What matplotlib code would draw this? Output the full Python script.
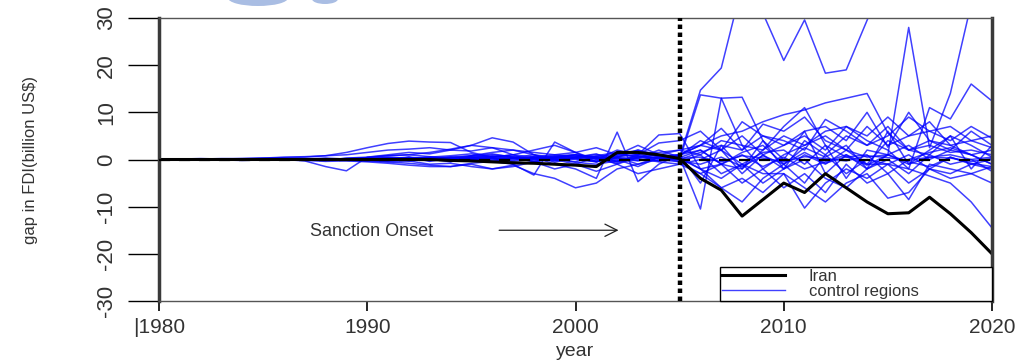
import matplotlib
matplotlib.use('Agg')
import matplotlib.pyplot as plt
from matplotlib.patches import Ellipse

years = list(range(1980, 2021))
year_ticks = [1980, 1990, 2000, 2010, 2020]
year_labels = ['|1980', '1990', '2000', '2010', '2020']
gap_ticks = [-30, -20, -10, 0, 10, 20, 30]

iran = [0, 0, 0, 0, 0, 0, 0, 0, 0, 0,
        0, 0, 0, 0, -0.2, -0.3, -0.5, -0.7, -0.8, -1.0,
        -1.2, -1.5, 1.5, 1.5, 1.0, 0.2, -4.0, -6.5, -12.0, -8.5,
        -5.0, -7.0, -3.0, -6.0, -9.0, -11.5, -11.3, -8.0, -11.5, -15.5, -20.0]

# control regions (placebo gaps), one list per region
ctrl_a = [0.0, 0.1, 0.2, 0.1, 0.0, 0.1, 0.2, 0.0, -0.2, 0.3,
          0.5, 0.8, 1.0, 0.6, 0.3, 0.8, 1.2, 0.5, -0.5, 0.4,
          1.0, 0.2, -0.8, 0.5, 1.0, 0.5, 14.7, 19.4, 37.0, 31.0,
          21.0, 29.6, 18.3, 19.0, 29.5, 40.0, 45.0, 48.0, 46.0, 50.0, 52.0]
ctrl_b = [0, -0.1, 0, 0.1, 0, 0, -0.1, 0, 0.2, 0,
          -0.3, 0.2, 0.5, -0.4, 0.3, 0.6, -0.5, 0.4, 1.0, -0.6,
          0.5, 1.2, -0.5, 0.8, -0.3, 0.4, 2.0, -1.0, 1.5, 3.0,
          -1.0, 2.5, 0.5, 3.0, -2.0, 1.0, 28.0, 2.5, 14.0, 33.0, 45.0]
ctrl_c = [0, 0, 0.1, 0, -0.1, 0, 0, 0.1, 0, -0.1,
          0.2, -0.2, 0.3, 0.5, 0.2, -0.3, 0.6, 0.2, -0.2, 0.5,
          0.3, -0.5, 0.6, 1.0, 0.2, 1.0, 3.0, 2.0, 5.0, 1.0,
          3.0, 5.0, 2.0, 7.0, 4.0, 2.0, -2.0, 11.0, 8.6, 16.0, 12.4]
ctrl_d = [0, 0, 0, 0.1, 0, 0, 0.1, 0, 0, 0.1,
          0, 0.3, -0.2, 0.4, 0.1, 0.5, 0.3, -0.2, 0.6, 0.2,
          -0.5, 0.8, 1.5, 0.3, 2.0, 0.5, -10.5, 13.0, 13.2, 4.0,
          -2.0, 1.0, -1.0, 2.0, 0.5, 1.0, -1.0, 0.5, 1.0, 0.0, 0.5]
ctrl_e = [0, 0.1, 0, 0, 0.1, 0.2, 0, 0.1, 0.3, 0.1,
          0.2, 0.5, 0.3, -0.2, 0.4, 0.2, 0.6, 0.3, 0.0, 0.4,
          0.6, 0.2, 0.8, 1.0, 1.5, 2.0, 3.0, 5.0, 6.0, 8.0,
          9.5, 10.5, 12.0, 13.0, 14.0, 5.6, 2.0, 4.0, 3.0, 1.0, 2.0]
ctrl_f = [0, 0, -0.1, 0, 0, 0.1, 0, 0, 0, 0.2,
          0.3, 0.2, -0.3, 0.1, 0.5, 0.2, -0.4, 0.3, 0.5, -0.2,
          0.4, 0.6, 0.2, -0.3, 0.8, 1.0, 2.0, -1.0, -2.0, 2.0,
          7.0, 11.0, 3.0, -4.0, 2.0, 1.0, 3.0, 0.0, 2.0, 1.0, -1.0]
ctrl_g = [0, 0, 0, 0, 0, 0, 0.1, 0, 0, 0,
          0.2, 0.3, 0.1, 0.5, 0.8, 1.2, 0.5, 1.0, 0.5, -1.0,
          -2.0, -4.0, 5.8, -4.7, -1.0, 1.0, 3.0, 6.6, 2.0, 7.5,
          6.0, 9.0, 4.0, 2.0, 7.0, 3.0, 5.0, 8.0, 3.0, 4.0, 2.5]
ctrl_h = [0, 0, 0, 0, 0.1, 0, 0, 0, 0, 0,
          0.1, 0.2, 0.4, 0.2, -0.3, 0.5, 1.0, 0.6, 0.2, 0.8,
          1.0, 0.5, 1.2, 0.6, 0.3, 0.0, 13.7, 13.0, 3.0, -2.0,
          1.0, 3.0, 5.0, 2.0, -1.0, 4.0, 2.0, 3.0, 1.5, 2.0, 1.0]
ctrl_i = [0, 0, 0, 0, 0, -0.1, 0, 0, 0, -0.2,
          -0.3, -0.5, -0.8, -1.2, -1.5, -0.8, -0.4, -1.0, -0.5, 0.2,
          -0.6, -1.0, -0.3, 0.2, -0.5, -1.0, -3.0, -6.0, -4.0, -7.0,
          -3.0, -10.3, -5.0, -2.0, -4.0, -1.0, -5.0, -2.0, -3.0, -1.0, -2.0]
ctrl_j = [0, 0, 0, 0, 0, 0, 0, 0, 0, 0,
          0.1, 0.2, 0.1, -0.2, 0.3, 0.1, -0.1, 0.4, 0.2, 0.0,
          0.3, -0.2, 0.5, 0.1, -0.3, 0.2, -2.0, -1.0, 1.0, -1.5,
          0.5, -2.0, -0.5, 1.0, -1.0, -1.0, -2.0, -3.5, -5.0, -9.0, -14.5]
ctrl_k = [0, 0, 0.1, 0, 0, 0, 0, 0.1, 0, 0,
          0.2, 0.0, 0.3, 0.2, 0.5, 0.8, 1.5, 2.0, 1.0, 0.5,
          0.0, -0.5, 1.0, 2.0, 1.0, 0.5, -2.0, -4.0, -1.0, -3.0,
          -3.0, -6.0, -9.0, -5.0, -3.0, -8.2, -7.0, -2.0, -4.0, -3.0, -5.0]
ctrl_l = [0, 0, 0, 0.1, 0.2, 0.3, 0.5, 0.6, 0.8, 1.5,
          2.5, 3.4, 3.9, 3.7, 3.6, 1.5, 0.5, 1.0, -0.5, 0.5,
          1.0, 0.5, -1.0, 0.5, 1.0, 0.0, 1.5, 3.0, 2.0, 5.0,
          3.0, 6.0, 7.0, 4.0, 10.0, 2.6, 10.0, 4.0, 2.0, 6.0, 3.0]
ctrl_m = [0, 0, 0, 0, 0, 0, 0, -0.3, -1.5, -2.4,
          0.5, 1.0, 1.5, 1.2, 2.0, 3.0, 2.5, 1.0, 2.0, 3.0,
          1.5, 0.0, 2.0, 1.0, 3.5, 4.0, 6.0, 2.0, -3.0, 1.0,
          -2.0, 4.0, 1.0, 5.0, 3.0, 7.0, 2.0, 1.0, 5.0, 3.0, 0.5]
ctrl_n = [0, 0, 0, 0, 0, 0, 0, 0, 0, 0.2,
          0.4, 0.8, 1.0, 1.5, 2.2, 3.0, 4.6, 3.7, 1.0, 0.0,
          -1.0, 0.5, 0.0, -1.5, 0.5, 0.8, 4.0, 2.0, 8.0, 5.0,
          4.0, 2.0, 8.5, 6.0, 3.0, 5.0, 9.0, 6.0, 7.0, 4.0, 5.0]
ctrl_o = [0, 0, 0, 0, 0, 0, 0, 0, 0, 0,
          0.3, -0.2, 0.5, 0.2, -0.5, 0.8, 0.5, -1.0, -3.3, 3.7,
          1.5, -0.5, 0.5, 2.0, 0.5, 1.0, -5.0, 3.0, -2.0, 4.0,
          0.0, 6.0, -3.0, 1.0, -2.0, 6.0, -1.0, 2.0, 5.0, -2.0, 3.0]
ctrl_p = [0, 0, 0, 0, 0, 0, 0, 0, 0, 0,
          -0.2, -0.5, -0.3, -1.0, -0.8, -1.5, -2.0, -1.2, -3.0, -4.0,
          -6.0, -5.0, -2.0, -1.0, 0.5, -0.5, -3.0, -1.0, -5.0, -2.0,
          -6.0, -3.0, -7.0, -1.0, -5.0, -3.0, -8.5, -1.0, -2.0, -3.0, -1.5]
ctrl_q = [0, 0, 0, 0, 0, 0, 0, 0, 0, 0,
          0.1, 0.2, 0.0, 0.3, 0.5, 0.3, 0.8, 0.5, 0.2, 0.6,
          0.8, 0.5, -0.5, 1.0, 5.2, 5.5, -2.0, -6.0, -9.0, -4.0,
          -1.0, -5.0, 1.0, -3.0, 0.0, -1.0, 1.0, -2.0, 0.5, -1.0, 0.0]
ctrl_r = [0, 0.1, 0.1, 0.2, 0.2, 0.3, 0.4, 0.5, 0.8, 1.0,
          1.5, 2.0, 2.2, 2.5, 2.0, 1.8, 2.5, 2.0, 1.5, 1.0,
          0.5, 1.0, 0.5, -1.0, 0.0, -0.5, 1.0, -3.0, -1.0, -5.0,
          -2.0, 0.0, -4.0, -6.0, -2.0, 0.0, -3.0, 1.0, -1.0, 0.0, -2.5]
ctrl_s = [0, 0, 0, -0.1, -0.2, -0.1, 0, -0.2, -0.4, -0.3,
          -0.5, -0.8, -1.2, -1.5, -1.5, -1.0, -2.0, -1.5, -0.5, -2.0,
          -1.0, -2.5, -1.0, -3.0, -2.0, -1.0, 0.0, 2.0, -1.0, 1.5,
          2.0, -1.0, 3.0, 0.5, 1.0, -3.0, 0.0, 1.5, 2.5, 1.0, -1.0]
ctrl_t = [0, 0, 0, 0, 0, 0, 0, 0, 0, 0,
          0, 0.1, 0, -0.1, 0.2, 0, 0.3, 0.1, 0.5, 1.0,
          1.5, 2.5, 1.0, 3.0, 1.0, 2.0, 1.0, 4.0, 3.0, 2.0,
          5.0, 3.0, 6.0, 7.0, 5.0, 9.0, 5.0, 6.0, 4.0, 7.0, 4.5]
ctrl_u = [0, 0, 0, 0, 0, 0, 0, 0, 0, 0,
          0.1, 0, 0.2, 0.1, 0, 0.3, 0.1, 0.2, 0.4, 0.1,
          0.5, 0.2, -0.3, 0.6, 0.3, 0.2, 0.5, -0.5, 0.8, 0.3,
          -0.5, 0.6, 0.2, -0.3, 0.8, 0.4, -0.2, 0.5, 0.3, -0.4, 0.2]
ctrl_v = [0, 0, 0, 0, 0, 0, 0, 0, 0, 0,
          -0.1, 0, -0.2, 0.1, -0.3, -0.1, 0.2, -0.4, 0.1, -0.3,
          0.2, -0.4, 0.3, -0.2, 0.5, -0.3, -1.0, 0.5, -1.5, 0.8,
          -1.0, 1.5, -0.8, 0.6, -1.2, 1.0, -0.5, -1.5, 0.5, -0.8, -1.5]

controls = [ctrl_a, ctrl_b, ctrl_c, ctrl_d, ctrl_e, ctrl_f, ctrl_g, ctrl_h,
            ctrl_i, ctrl_j, ctrl_k, ctrl_l, ctrl_m, ctrl_n, ctrl_o, ctrl_p,
            ctrl_q, ctrl_r, ctrl_s, ctrl_t, ctrl_u, ctrl_v]

plt.rcParams['font.family'] = ['Liberation Sans', 'DejaVu Sans']
plt.rcParams['axes.unicode_minus'] = False

fig = plt.figure(figsize=(10.29, 3.62), dpi=100)
ax = fig.add_axes([159 / 1029, 1 - 301 / 362, 833 / 1029, 283 / 362])

for c in controls:
    ax.plot(years, c, color='#0000ff', lw=1.1, alpha=0.75)
ax.plot(years, iran, color='black', lw=2.2)

ax.axhline(0, color='black', lw=1.6, ls=(0, (5, 4)), zorder=4)
ax.axvline(2005, color='black', lw=3.2, ls=(0, (1, 0.8)), zorder=5)

ax.text(1990.2, -15.3, 'Sanction Onset', ha='center', va='center',
        fontsize=13, color='#333333')
ax.annotate('', xy=(2002.2, -15), xytext=(1996.2, -15),
            arrowprops=dict(arrowstyle='->', color='#222222', lw=0.9,
                            mutation_scale=22))

ax.set_xlim(1980, 2020)
ax.set_ylim(-30, 30)
ax.set_xticks(year_ticks)
ax.set_xticklabels(year_labels)
ax.set_yticks(gap_ticks)
ax.set_yticklabels([str(v) for v in gap_ticks], rotation=90, va='center')
ax.tick_params(axis='x', length=7, width=1.2, pad=5, labelsize=15,
               labelcolor='#333333')
ax.tick_params(axis='y', length=22, width=1.0, pad=8, labelsize=16,
               labelcolor='#333333')

for side in ['left', 'right']:
    ax.spines[side].set_linewidth(2.5)
    ax.spines[side].set_color('#3a3a3a')
for side in ['top', 'bottom']:
    ax.spines[side].set_linewidth(1.0)
    ax.spines[side].set_color('#555555')

ax.set_xlabel('year', fontsize=14, color='#333333', va='bottom')
ax.xaxis.set_label_coords(0.5, -0.21)
ax.set_ylabel('gap in FDI(billion US$)', fontsize=12, color='#333333')
ax.yaxis.set_label_coords(-0.145, 0.5)

handles = [plt.Line2D([], [], color='black', lw=2.2),
           plt.Line2D([], [], color='#0000ff', lw=1.0, alpha=0.75)]
leg = ax.legend(handles, ['Iran', 'control regions'], loc='lower left',
                bbox_to_anchor=(561 / 833, 0, 272 / 833, 0.13), mode='expand',
                fontsize=12, frameon=True, fancybox=False, framealpha=1,
                edgecolor='black', handlelength=3.8, handletextpad=1.4,
                borderpad=0.12, labelspacing=0.0, borderaxespad=0)
leg.get_frame().set_linewidth(1.0)
for t in leg.get_texts():
    t.set_color('#333333')

# faint watermark shapes at the top edge
fig.patches.append(Ellipse((258 / 1029, 1 + 2 / 362), 60 / 1029, 16 / 362,
                           transform=fig.transFigure, color='#a9bde3', lw=0))
fig.patches.append(Ellipse((325 / 1029, 1 + 1 / 362), 26 / 1029, 10 / 362,
                           transform=fig.transFigure, color='#a9bde3', lw=0))

fig.savefig('out.png', dpi=100)
